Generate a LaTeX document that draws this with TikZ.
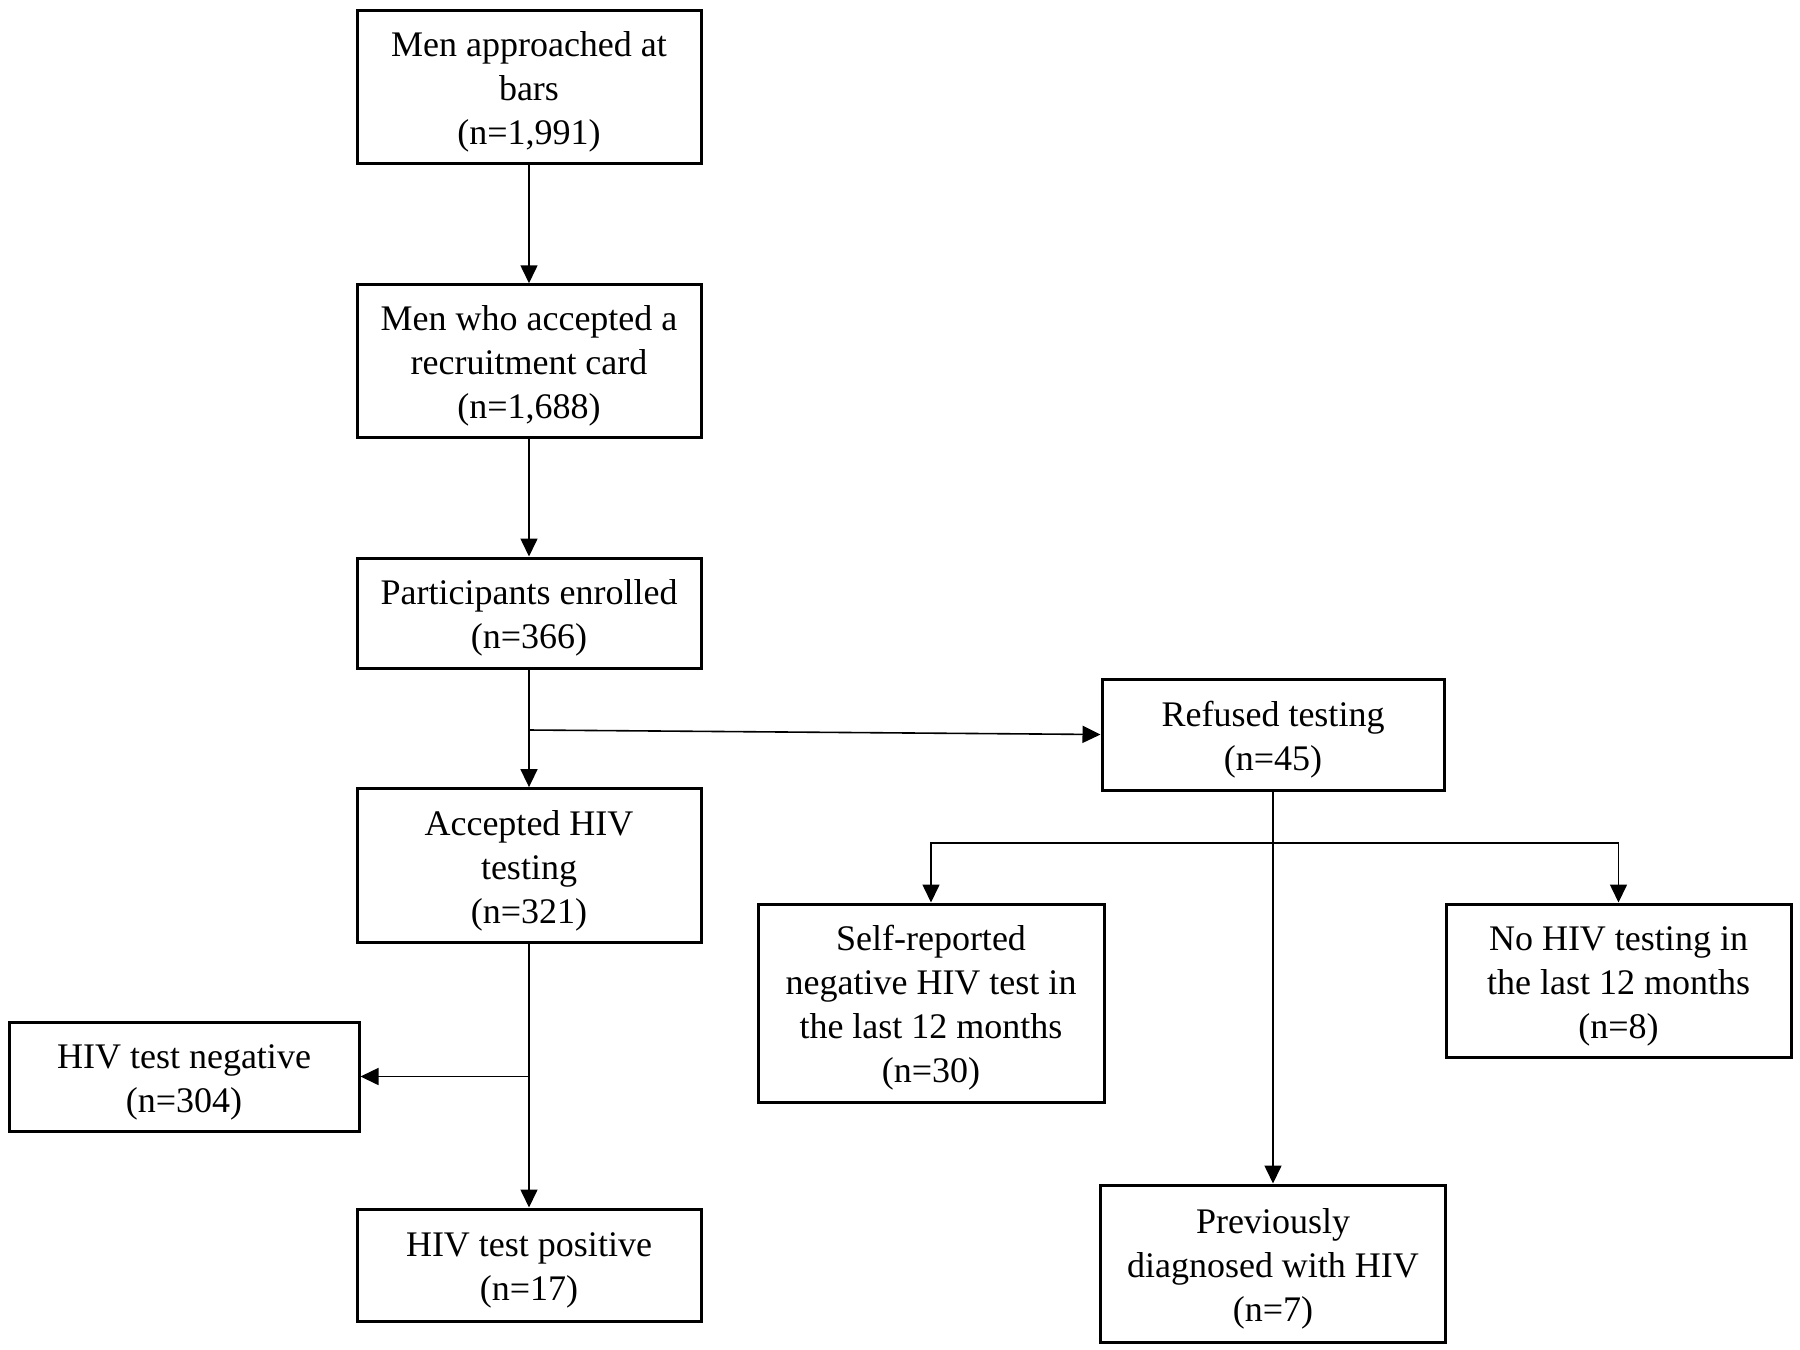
\documentclass[tikz,border=0pt]{standalone}
\usepackage{fontspec}
\setmainfont{Liberation Serif}
\usetikzlibrary{arrows.meta}
\newcommand{\upstrut}{\rule{0pt}{17.5pt}}
\begin{document}
\begin{tikzpicture}[x=0.5pt,y=-0.5pt,
 box/.style={draw, line width=1.5pt, align=center, inner sep=0pt, font=\fontsize{18}{22}\selectfont},
 conn/.style={line width=0.8pt, -{Triangle[length=9pt,width=8.5pt]}},
 plain/.style={line width=0.8pt}]
\useasboundingbox (0,0) rectangle (1800,1350);
\node[box, minimum width=172pt, minimum height=76.5pt] (A) at (529,86.5) {\upstrut Men approached at\\bars\\(n=1,991)};
\node[box, minimum width=172pt, minimum height=76.25pt] (B) at (529,361) {\upstrut Men who accepted a\\recruitment card\\(n=1,688)};
\node[box, minimum width=172pt, minimum height=55pt] (C) at (529,613) {\upstrut Participants enrolled\\(n=366)};
\node[box, minimum width=172pt, minimum height=77pt] (D) at (529,865.6) {\upstrut Accepted HIV\\testing\\(n=321)};
\node[box, minimum width=175pt, minimum height=54.5pt] (E) at (184,1076.5) {\upstrut HIV test negative\\(n=304)};
\node[box, minimum width=172pt, minimum height=56pt] (F) at (529,1265) {\upstrut HIV test positive\\(n=17)};
\node[box, minimum width=171pt, minimum height=55.5pt] (R) at (1273,734.5) {\upstrut Refused testing\\(n=45)};
\node[box, minimum width=173pt, minimum height=99pt] (S) at (931,1003) {\upstrut Self-reported\\negative HIV test in\\the last 12 months\\(n=30)};
\node[box, minimum width=172.5pt, minimum height=76.5pt] (N) at (1618.5,980.5) {\upstrut No HIV testing in\\the last 12 months\\(n=8)};
\node[box, minimum width=172.5pt, minimum height=78.5pt] (P) at (1273,1263.5) {\upstrut Previously\\diagnosed with HIV\\(n=7)};
\draw[conn] (A.south) -- (B.north);
\draw[conn] (B.south) -- (C.north);
\draw[conn] (C.south) -- (D.north);
\coordinate (c1) at (529,730);
\draw[conn] (c1) -- (R.west);
\draw[conn] (D.south) -- (F.north);
\coordinate (d1) at (D.south |- E.east);
\draw[conn] (d1) -- (E.east);
\draw[conn] (R.south) -- (P.north);
\coordinate (r1) at (1273,843);
\draw[conn] (r1) -| (S.north);
\draw[conn] (r1) -| (N.north);
\end{tikzpicture}
\end{document}
